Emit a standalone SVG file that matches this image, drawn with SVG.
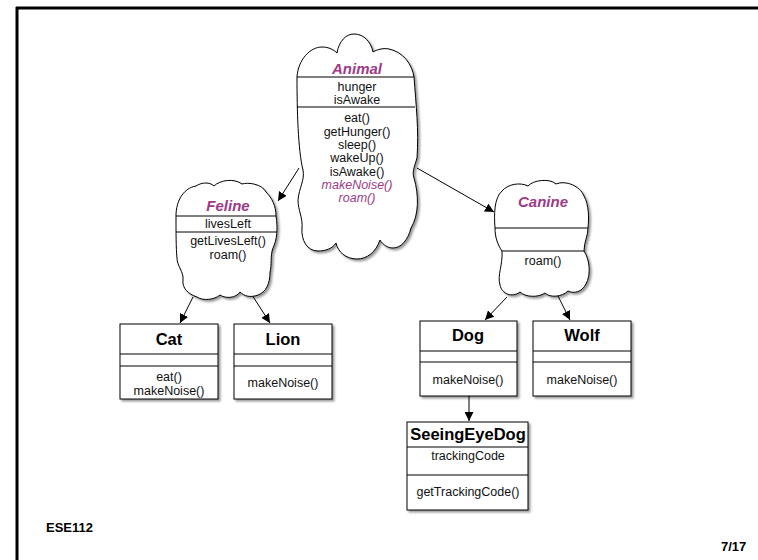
<svg xmlns="http://www.w3.org/2000/svg" width="758" height="560" viewBox="0 0 758 560">
  <style>
    .shape { fill: #ffffff; stroke: #000000; stroke-width: 1; filter: url(#shadow); }
    .sep { stroke: #000000; stroke-width: 1; fill: none; }
    .t { font-family: "Liberation Sans", Arial, sans-serif; font-size: 12.5px; fill: #111111; text-anchor: middle; }
    .abs { font-style: italic; fill: #9d3b85; }
    .ctitle { font-family: "Liberation Sans", Arial, sans-serif; font-size: 15px; font-weight: bold; font-style: italic; fill: #9d3b85; text-anchor: middle; }
    .btitle { font-family: "Liberation Sans", Arial, sans-serif; font-size: 16.5px; font-weight: bold; fill: #000000; text-anchor: middle; }
    .edge { stroke: #000000; stroke-width: 1; fill: none; marker-end: url(#arrow); }
    .foot { font-family: "Liberation Sans", Arial, sans-serif; font-size: 13px; font-weight: bold; fill: #000000; }
  </style>
  <defs>
    <filter id="shadow" x="-10%" y="-10%" width="130%" height="130%">
      <feDropShadow dx="2" dy="2" stdDeviation="1.2" flood-color="#000000" flood-opacity="0.4"/>
    </filter>
    <marker id="arrow" viewBox="0 0 10 10" refX="10" refY="5" markerWidth="9" markerHeight="9" markerUnits="userSpaceOnUse" orient="auto">
      <path d="M0,0 L10,5 L0,10 Z" fill="#000000"/>
    </marker>
  </defs>

  <rect x="0" y="0" width="758" height="560" fill="#ffffff"/>

  <!-- slide frame -->
  <g id="frame">
    <line x1="16" y1="8" x2="758" y2="8" stroke="#000000" stroke-width="3"/>
    <line x1="17" y1="7" x2="17" y2="560" stroke="#000000" stroke-width="3"/>
  </g>

  <!-- inheritance connectors -->
  <g id="connectors">
    <line class="edge" x1="299" y1="168" x2="278" y2="201"/>
    <line class="edge" x1="417" y1="168" x2="494" y2="212"/>
    <line class="edge" x1="193" y1="297" x2="180" y2="323"/>
    <line class="edge" x1="252" y1="295" x2="270" y2="323"/>
    <line class="edge" x1="507" y1="297" x2="485" y2="320"/>
    <line class="edge" x1="558" y1="296" x2="570" y2="320"/>
    <line class="edge" x1="469" y1="396" x2="469" y2="421"/>
  </g>

  <!-- abstract class Animal -->
  <g id="animal">
    <path class="shape" d="M297,77 C298,60 310,47 322,47 C329,47 334,50 337,53 C339,41 346,34 354,34 C364,34 371,42 373,52 C378,49 384,48 389,49 C403,52 412,64 414,77 C416,105 419,130 417,158 C414,168 412,172 414,178 C419,195 419,215 411,228 C408,240 401,248 393,248 C388,248 383,245 380,240 C376,252 367,259 357,259 C346,259 338,252 336,243 C332,249 325,251 318,251 C307,251 301,240 302,228 C303,218 298,210 298,200 C299,188 305,180 303,170 C298,150 297,110 297,77 Z"/>
    <line class="sep" x1="297" y1="77" x2="414" y2="77"/>
    <line class="sep" x1="297" y1="107" x2="415" y2="107"/>
    <text class="ctitle" x="357" y="74">Animal</text>
    <text class="t" x="357" y="91">hunger</text>
    <text class="t" x="357" y="104">isAwake</text>
    <text class="t" x="357" y="122">eat()</text>
    <text class="t" x="357" y="136">getHunger()</text>
    <text class="t" x="357" y="149">sleep()</text>
    <text class="t" x="357" y="162">wakeUp()</text>
    <text class="t" x="357" y="176">isAwake()</text>
    <text class="t abs" x="357" y="189">makeNoise()</text>
    <text class="t abs" x="357" y="202">roam()</text>
  </g>

  <!-- abstract class Feline -->
  <g id="feline">
    <path class="shape" d="M176,216 C176,200 184,188 196,186 C202,182 210,182 214,186 C220,180 234,178 242,184 C248,182 262,184 266,192 C272,198 276,206 276,216 C278,228 277,240 273,248 C270,256 272,265 270,272 C270,284 266,292 258,295 C250,298 244,296 240,292 C236,298 226,299 220,295 C214,300 203,301 197,297 C188,294 182,288 183,280 C184,272 177,266 177,258 C176,248 176,232 176,216 Z"/>
    <line class="sep" x1="176" y1="216" x2="276" y2="216"/>
    <line class="sep" x1="176" y1="232" x2="277" y2="232"/>
    <text class="ctitle" x="228" y="211">Feline</text>
    <text class="t" x="228" y="228">livesLeft</text>
    <text class="t" x="228" y="245">getLivesLeft()</text>
    <text class="t" x="228" y="259">roam()</text>
  </g>

  <!-- abstract class Canine -->
  <g id="canine">
    <path class="shape" d="M495,228 C494,215 494,198 502,191 C508,184 520,182 528,186 C533,180 550,178 556,184 C566,180 580,186 584,196 C589,205 589,218 588,228 C588,236 584,242 584,251 C590,260 591,275 586,284 C582,292 574,294 568,291 C562,297 550,298 545,293 C538,298 525,297 520,292 C512,298 502,294 500,285 C497,275 503,265 502,251 C498,245 495,238 495,228 Z"/>
    <line class="sep" x1="495" y1="228" x2="588" y2="228"/>
    <line class="sep" x1="502" y1="251" x2="584" y2="251"/>
    <text class="ctitle" x="543" y="207">Canine</text>
    <text class="t" x="543" y="265">roam()</text>
  </g>

  <!-- concrete class Cat -->
  <g id="cat">
    <rect class="shape" x="120" y="324" width="98" height="75"/>
    <line class="sep" x1="120" y1="354" x2="218" y2="354"/>
    <line class="sep" x1="120" y1="366" x2="218" y2="366"/>
    <text class="btitle" x="169" y="345">Cat</text>
    <text class="t" x="169" y="381">eat()</text>
    <text class="t" x="169" y="395">makeNoise()</text>
  </g>

  <!-- concrete class Lion -->
  <g id="lion">
    <rect class="shape" x="234" y="324" width="98" height="75"/>
    <line class="sep" x1="234" y1="354" x2="332" y2="354"/>
    <line class="sep" x1="234" y1="366" x2="332" y2="366"/>
    <text class="btitle" x="283" y="345">Lion</text>
    <text class="t" x="283" y="387">makeNoise()</text>
  </g>

  <!-- concrete class Dog -->
  <g id="dog">
    <rect class="shape" x="420" y="321" width="97" height="75"/>
    <line class="sep" x1="420" y1="351" x2="517" y2="351"/>
    <line class="sep" x1="420" y1="362" x2="517" y2="362"/>
    <text class="btitle" x="468" y="341">Dog</text>
    <text class="t" x="468" y="384">makeNoise()</text>
  </g>

  <!-- concrete class Wolf -->
  <g id="wolf">
    <rect class="shape" x="533" y="321" width="98" height="75"/>
    <line class="sep" x1="533" y1="351" x2="631" y2="351"/>
    <line class="sep" x1="533" y1="362" x2="631" y2="362"/>
    <text class="btitle" x="582" y="341">Wolf</text>
    <text class="t" x="582" y="384">makeNoise()</text>
  </g>

  <!-- subclass SeeingEyeDog -->
  <g id="seeingeyedog">
    <rect class="shape" x="407" y="422" width="121" height="88"/>
    <line class="sep" x1="407" y1="447" x2="528" y2="447"/>
    <line class="sep" x1="407" y1="475" x2="528" y2="475"/>
    <text class="btitle" x="468" y="440">SeeingEyeDog</text>
    <text class="t" x="468" y="460">trackingCode</text>
    <text class="t" x="468" y="496">getTrackingCode()</text>
  </g>

  <!-- footer -->
  <g id="footer">
    <text class="foot" x="46" y="532">ESE112</text>
    <text class="foot" x="721" y="551">7/17</text>
  </g>
</svg>
